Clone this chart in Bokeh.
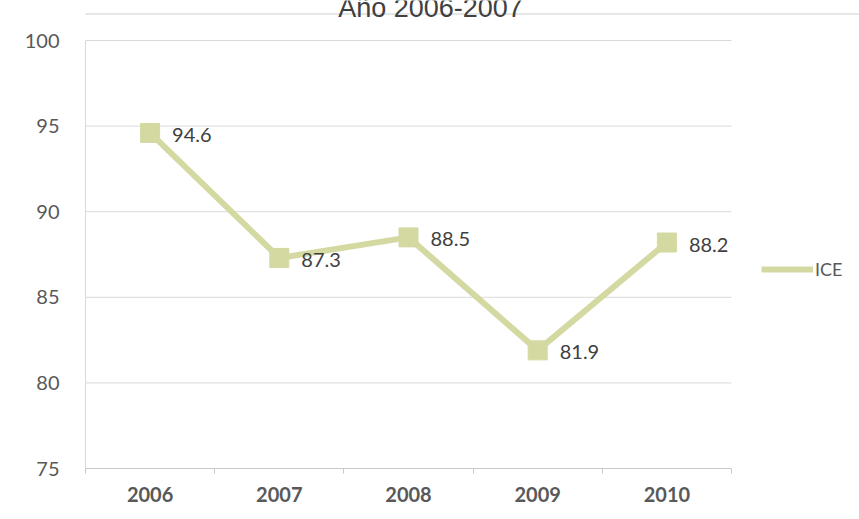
from bokeh.plotting import figure
from bokeh.models import (FixedTicker, Legend, LegendItem, ColumnDataSource, Label,
                          BoxAnnotation)
from bokeh.core.properties import value
from bokeh.embed import file_html
from bokeh.resources import INLINE

years = [2006, 2007, 2008, 2009, 2010]
year_labels = ["2006", "2007", "2008", "2009", "2010"]
ice = [94.6, 87.3, 88.5, 81.9, 88.2]
ice_labels = ["94.6", "87.3", "88.5", "81.9", "88.2"]
y_ticks = [75, 80, 85, 90, 95, 100]
title_text = "Año 2006-2007"
series_name = "ICE"

COL = "#d4d9a2"
TXT = "#595959"

W, H = 859, 519
LEFT, BOTTOM = 85, 51
FRAME_H = H - BOTTOM                      # frame reaches the top edge
PX_PER_UNIT = (468 - 40) / 25.0           # 25 y-units span 428 px
X_PX = 129.2                              # px per year
y_top = 75 + FRAME_H / PX_PER_UNIT
x_right = 2005.5 + (W - LEFT) / X_PX

p = figure(width=W, height=H, output_backend="svg", toolbar_location=None,
           x_range=(2005.5, x_right), y_range=(75, y_top),
           min_border_left=LEFT, min_border_right=0, min_border_top=0,
           min_border_bottom=BOTTOM)
p.outline_line_color = None

p.xaxis.ticker = FixedTicker(ticks=years,
                             minor_ticks=[y - 0.5 for y in years] + [years[-1] + 0.5])
p.xaxis.bounds = (years[0] - 0.5, years[-1] + 0.5)
p.xaxis.major_label_overrides = {y: l for y, l in zip(years, year_labels)}
p.xaxis.major_tick_line_color = None
p.xaxis.minor_tick_line_color = "#c8c8c8"
p.xaxis.minor_tick_out = 5
p.xaxis.minor_tick_in = 0
p.xaxis.axis_line_color = "#c8c8c8"
p.xaxis.major_label_text_font = "Lato"
p.xaxis.major_label_text_font_style = "bold"
p.xaxis.major_label_text_font_size = "20px"
p.xaxis.major_label_text_color = TXT
p.xaxis.major_label_standoff = 12

p.yaxis.ticker = FixedTicker(ticks=y_ticks)
p.yaxis.bounds = (y_ticks[0], y_ticks[-1])
p.yaxis.major_tick_line_color = None
p.yaxis.minor_tick_line_color = None
p.yaxis.axis_line_color = "#d9d9d9"
p.yaxis.major_label_text_font = "Lato"
p.yaxis.major_label_text_font_size = "20px"
p.yaxis.major_label_text_color = TXT
p.yaxis.major_label_standoff = 20

p.xgrid.grid_line_color = None
p.ygrid.grid_line_color = None
# horizontal gridlines limited to the plot area
p.segment(x0=[years[0] - 0.5] * len(y_ticks), x1=[years[-1] + 0.5] * len(y_ticks),
          y0=y_ticks, y1=y_ticks, line_color="#d9d9d9", line_width=1, level="underlay")

src = ColumnDataSource(dict(x=years, y=ice, lab=ice_labels))
ln = p.line("x", "y", source=src, line_color=COL, line_width=6)
p.scatter("x", "y", source=src, marker="square", size=19, fill_color=COL,
          line_color=COL)
p.text("x", "y", text="lab", source=src, x_offset=22, y_offset=2,
       text_baseline="middle", text_align="left", text_font=value("Lato"),
       text_font_size="20px", text_color="#404040")

legend = Legend(items=[LegendItem(label=series_name, renderers=[ln])],
                location=(676, 188), border_line_color=None,
                background_fill_alpha=0, glyph_width=52, glyph_height=20,
                label_text_font="Lato", label_text_font_size="18px",
                label_text_color=TXT, label_standoff=2, padding=0, margin=0)
p.add_layout(legend, "center")

# chart-area border line under the cut-off title
p.add_layout(BoxAnnotation(bottom=FRAME_H - 14, top=FRAME_H - 13,
                           bottom_units="screen", top_units="screen",
                           fill_color="#d0d0d0", fill_alpha=1, line_color=None))

# title, cut by the top edge
p.add_layout(Label(x=430 - LEFT, y=FRAME_H - 7, x_units="screen", y_units="screen",
                   text=title_text, text_align="center", text_baseline="alphabetic",
                   text_font="Liberation Sans", text_font_size="27px",
                   text_color="#404040"))

open("out.html", "w").write(file_html(p, INLINE))
